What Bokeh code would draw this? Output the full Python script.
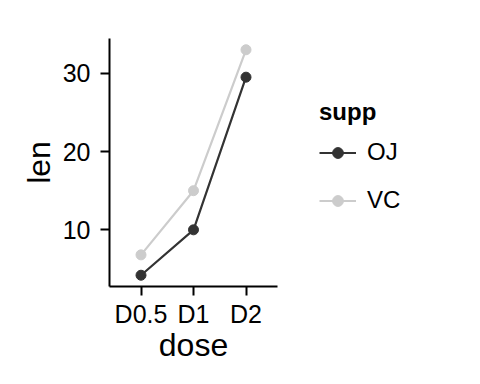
from bokeh.plotting import figure
from bokeh.models import FactorRange, Range1d, FixedTicker, Legend, LegendItem
from bokeh.embed import file_html
from bokeh.resources import INLINE

doses = ["D0.5", "D1", "D2"]
supp = ["OJ", "VC"]
len_oj = [4.2, 10.0, 29.5]
len_vc = [6.8, 15.0, 33.0]
colors = {"OJ": "#333333", "VC": "#CCCCCC"}
y_ticks = [10, 20, 30]

FONT = "Liberation Sans"

p = figure(
    frame_width=168, frame_height=248,
    x_range=FactorRange(factors=doses, range_padding=0.1, range_padding_units="absolute"),
    y_range=Range1d(2.76, 34.44),
    output_backend="svg", toolbar_location=None,
    min_border_left=109, min_border_right=203, min_border_top=38, min_border_bottom=98,
)
p.outline_line_color = None
p.grid.grid_line_color = None
p.background_fill_color = "white"
p.border_fill_color = "white"

renderers = {}
for name, vals in (("OJ", len_oj), ("VC", len_vc)):
    l = p.line(doses, vals, line_color=colors[name], line_width=2.2)
    s = p.scatter(doses, vals, size=10, fill_color=colors[name], line_color=colors[name])
    renderers[name] = [l, s]

for ax in (p.xaxis[0], p.yaxis[0]):
    ax.axis_line_color = "black"
    ax.axis_line_width = 2
    ax.major_tick_line_color = "black"
    ax.major_tick_line_width = 2
    ax.major_tick_out = 9
    ax.major_tick_in = 0
    ax.minor_tick_line_color = None
    ax.major_label_text_font = FONT
    ax.major_label_text_font_size = "25px"
    ax.major_label_text_color = "black"
    ax.axis_label_text_font = FONT
    ax.axis_label_text_font_size = "32px"
    ax.axis_label_text_font_style = "normal"
    ax.axis_label_text_color = "black"

p.xaxis.axis_label = "dose"
p.yaxis.axis_label = "len"
p.yaxis.ticker = FixedTicker(ticks=y_ticks)
p.xaxis.major_label_standoff = 4
p.yaxis.major_label_standoff = 10
p.xaxis.axis_label_standoff = -4
p.yaxis.axis_label_standoff = 3

legend = Legend(
    items=[LegendItem(label=n, renderers=renderers[n]) for n in supp],
    location=(42, 72),
    title="supp",
    title_text_font=FONT, title_text_font_size="24px", title_text_font_style="bold",
    title_text_color="black", title_standoff=12,
    label_text_font=FONT, label_text_font_size="24px", label_text_color="black",
    glyph_width=37, glyph_height=27, label_height=27, label_standoff=11,
    spacing=20, padding=0, margin=0,
    border_line_color=None, background_fill_alpha=0,
)
p.add_layout(legend, "right")

open("out.html", "w").write(file_html(p, INLINE))
